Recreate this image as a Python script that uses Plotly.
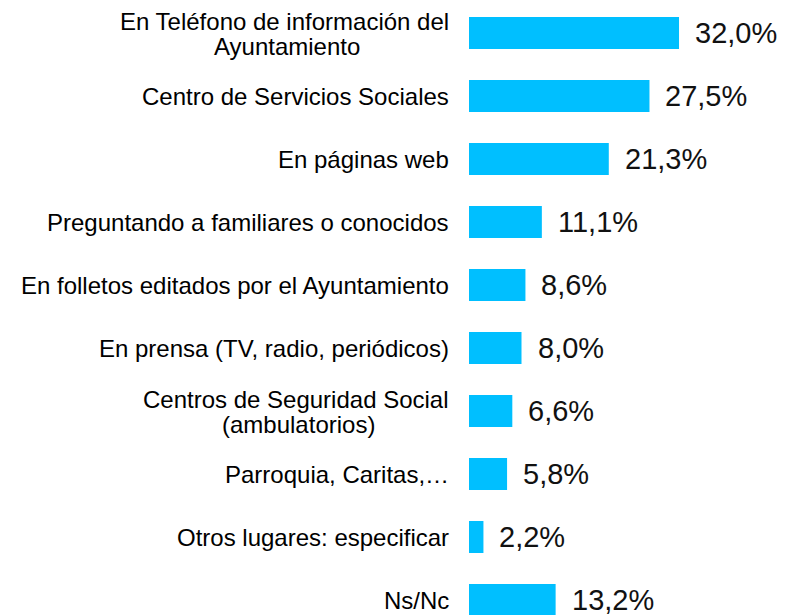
import plotly.graph_objects as go

categories = [
    "En Teléfono de información del\nAyuntamiento",
    "Centro de Servicios Sociales",
    "En páginas web",
    "Preguntando a familiares o conocidos",
    "En folletos editados por el Ayuntamiento",
    "En prensa (TV, radio, periódicos)",
    "Centros de Seguridad Social\n(ambulatorios)",
    "Parroquia, Caritas,…",
    "Otros lugares: especificar",
    "Ns/Nc",
]
values = [32.0, 27.5, 21.3, 11.1, 8.6, 8.0, 6.6, 5.8, 2.2, 13.2]
value_labels = ["32,0%", "27,5%", "21,3%", "11,1%", "8,6%", "8,0%", "6,6%", "5,8%", "2,2%", "13,2%"]

BAR_COLOR = "#00BFFF"
FONT = "Liberation Sans, Arial, sans-serif"
LABEL_SIZE = 24
VALUE_SIZE = 29
LABEL_GAP = 18
# horizontal offset of the centred second line for two-line labels (style only)
SECOND_LINE_SHIFT = {0: -182, 6: -171}

pos = list(range(len(categories)))

fig = go.Figure(
    go.Bar(
        x=values,
        y=pos,
        orientation="h",
        width=0.508,
        marker=dict(color=BAR_COLOR, line=dict(width=0)),
        hoverinfo="skip",
    )
)

annotations = []
for i, (cat, val, lab) in enumerate(zip(categories, values, value_labels)):
    annotations.append(dict(
        x=val, y=i, xref="x", yref="y", text=lab, showarrow=False,
        xanchor="left", yanchor="middle", xshift=14,
        font=dict(family=FONT, size=VALUE_SIZE, color="#111111"),
    ))
    lines = cat.split("\n")
    if len(lines) == 1:
        annotations.append(dict(
            x=0, y=i, xref="x", yref="y", text=lines[0], showarrow=False,
            xanchor="right", yanchor="middle", xshift=-LABEL_GAP,
            font=dict(family=FONT, size=LABEL_SIZE, color="#000000"),
        ))
    else:
        annotations.append(dict(
            x=0, y=i, xref="x", yref="y", text=lines[0], showarrow=False,
            xanchor="right", yanchor="middle", xshift=-LABEL_GAP, yshift=12,
            font=dict(family=FONT, size=LABEL_SIZE, color="#000000"),
        ))
        annotations.append(dict(
            x=0, y=i, xref="x", yref="y", text=lines[1], showarrow=False,
            xanchor="center", yanchor="middle", xshift=SECOND_LINE_SHIFT.get(i, -170),
            yshift=-13,
            font=dict(family=FONT, size=LABEL_SIZE, color="#000000"),
        ))

fig.update_layout(
    width=786,
    height=607,
    margin=dict(l=461, r=4, t=0, b=0),
    paper_bgcolor="white",
    plot_bgcolor="white",
    showlegend=False,
    annotations=annotations,
    xaxis=dict(range=[0, 48.91], visible=False, fixedrange=True),
    yaxis=dict(range=[9.238, -0.397], visible=False, fixedrange=True),
)

fig.write_html("out.html", config={"displayModeBar": False})
